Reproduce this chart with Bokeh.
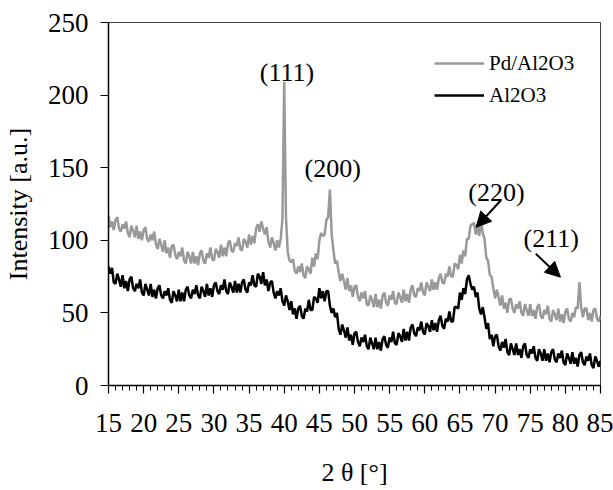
import numpy as np
from bokeh.plotting import figure
from bokeh.models import (ColumnDataSource, Range1d, SingleIntervalTicker, Legend, LegendItem,
                          LabelSet, Arrow, NormalHead)
from bokeh.embed import file_html
from bokeh.resources import INLINE

# ---- data ----
two_theta = np.arange(15, 85.001, 0.25)

pd_al2o3 = [
    117, 109, 113, 107, 114, 116, 108, 106, 111, 108, 113, 105, 102, 110, 107, 102,
    110, 101, 106, 100, 107, 109, 101, 99, 104, 100, 106, 97, 94, 101, 97, 92,
    100, 91, 95, 88, 96, 97, 90, 87, 92, 89, 95, 86, 84, 92, 89, 84,
    92, 84, 89, 83, 91, 93, 86, 84, 91, 88, 95, 87, 86, 94, 92, 88,
    97, 89, 95, 89, 98, 100, 93, 92, 98, 96, 102, 94, 93, 101, 99, 95,
    104, 97, 103, 98, 108, 111, 106, 113, 108, 104, 109, 99, 95, 102, 98, 93,
    100, 95, 101, 115, 209, 116, 92, 86, 85, 87, 79, 77, 82, 78, 84, 76,
    74, 82, 80, 77, 88, 82, 91, 87, 100, 105, 103, 104, 114, 116, 135, 104,
    93, 84, 86, 78, 72, 77, 72, 66, 74, 65, 69, 61, 68, 69, 61, 58,
    64, 60, 65, 56, 55, 62, 59, 54, 63, 54, 59, 53, 62, 64, 57, 55,
    62, 59, 65, 57, 56, 64, 61, 57, 66, 58, 63, 57, 66, 69, 62, 61,
    67, 65, 71, 64, 62, 71, 68, 65, 73, 66, 71, 66, 74, 77, 71, 70,
    77, 75, 82, 75, 75, 84, 83, 80, 90, 84, 93, 89, 101, 101, 110, 111,
    112, 104, 111, 103, 113, 105, 101, 88, 86, 76, 75, 67, 60, 66, 61, 55,
    62, 53, 57, 50, 59, 60, 53, 50, 56, 53, 58, 50, 48, 56, 52, 48,
    56, 48, 52, 46, 54, 56, 48, 46, 52, 49, 55, 46, 44, 52, 49, 45,
    53, 44, 49, 43, 51, 53, 46, 44, 50, 47, 54, 53, 71, 54, 47, 53,
    53, 45, 50, 44, 52, 53, 46, 44, 48,
]

al2o3 = [
    82, 77, 81, 71, 70, 77, 73, 68, 76, 67, 72, 65, 73, 75, 67, 65,
    70, 67, 73, 64, 62, 70, 66, 62, 70, 61, 66, 60, 67, 69, 62, 60,
    65, 62, 67, 59, 57, 65, 62, 58, 66, 58, 64, 58, 66, 68, 62, 60,
    66, 63, 69, 62, 60, 68, 65, 61, 70, 62, 67, 61, 69, 71, 65, 63,
    69, 66, 73, 65, 63, 71, 68, 64, 72, 64, 70, 64, 71, 73, 66, 64,
    71, 69, 76, 69, 68, 77, 75, 70, 78, 69, 73, 65, 71, 72, 64, 60,
    65, 62, 67, 58, 55, 62, 58, 52, 58, 49, 53, 46, 53, 55, 48, 46,
    53, 51, 59, 52, 52, 61, 60, 57, 67, 60, 65, 58, 65, 65, 55, 50,
    53, 47, 50, 39, 35, 42, 38, 33, 40, 31, 35, 28, 36, 37, 30, 27,
    33, 30, 35, 27, 25, 33, 29, 25, 33, 25, 30, 24, 32, 34, 28, 26,
    33, 30, 37, 29, 28, 36, 34, 30, 39, 31, 37, 31, 40, 42, 36, 34,
    40, 38, 44, 37, 35, 43, 41, 37, 45, 38, 43, 37, 45, 48, 41, 39,
    46, 44, 51, 44, 44, 54, 54, 53, 64, 59, 67, 63, 73, 76, 70, 66,
    68, 61, 64, 53, 49, 54, 47, 39, 43, 32, 35, 27, 34, 35, 27, 24,
    30, 26, 32, 23, 21, 29, 25, 21, 29, 21, 25, 19, 27, 29, 21, 19,
    25, 22, 27, 19, 17, 25, 22, 17, 25, 17, 22, 16, 23, 25, 18, 16,
    22, 19, 24, 16, 14, 22, 19, 15, 23, 15, 19, 13, 21, 23, 16, 14,
    20, 17, 22, 14, 12, 20, 17, 13, 17,
]

series_names = ["Pd/Al2O3", "Al2O3"]
series_colors = ["#999999", "#000000"]

peak_labels = ["(111)", "(200)", "(220)", "(211)"]
peak_label_x = [40.4, 46.9, 70.2, 78.0]
peak_label_y = [215.6, 149.5, 133.0, 101.0]

arrow_x0 = [70.8, 75.8]
arrow_y0 = [127.4, 90.7]
arrow_x1 = [67.3, 79.3]
arrow_y1 = [109.0, 74.6]

x_ticks_interval = 5
y_ticks_interval = 50

assert len(pd_al2o3) == len(two_theta), (len(pd_al2o3), len(two_theta))
assert len(al2o3) == len(two_theta), (len(al2o3), len(two_theta))

FONT = "Liberation Serif"

p = figure(width=613, height=490, output_backend="svg", toolbar_location=None,
           x_range=Range1d(15, 85), y_range=Range1d(0, 250),
           min_border_left=107, min_border_right=13, min_border_top=22, min_border_bottom=105)
p.background_fill_color = "white"
p.border_fill_color = "white"
p.outline_line_color = "#404040"
p.outline_line_width = 1
p.xgrid.visible = False
p.ygrid.visible = False

src = ColumnDataSource(dict(x=two_theta, pd=pd_al2o3, al=al2o3))
r_pd = p.line("x", "pd", source=src, line_color=series_colors[0], line_width=2.5)
r_al = p.line("x", "al", source=src, line_color=series_colors[1], line_width=2.5)

# axes
p.xaxis.ticker = SingleIntervalTicker(interval=x_ticks_interval, num_minor_ticks=5)
p.yaxis.ticker = SingleIntervalTicker(interval=y_ticks_interval, num_minor_ticks=0)
for ax in (p.xaxis[0], p.yaxis[0]):
    ax.axis_line_color = "black"
    ax.axis_line_width = 1.5
    ax.major_tick_line_color = "black"
    ax.major_tick_line_width = 1.2
    ax.minor_tick_line_color = "black"
    ax.major_tick_in = 0
    ax.major_tick_out = 8
    ax.minor_tick_in = 0
    ax.major_label_text_font = FONT
    ax.major_label_text_font_size = "27px"
    ax.major_label_text_color = "black"
    ax.axis_label_text_font = FONT
    ax.axis_label_text_font_size = "26px"
    ax.axis_label_text_font_style = "normal"
    ax.axis_label_text_color = "black"
p.xaxis.minor_tick_out = 5
p.yaxis.minor_tick_out = 0
p.xaxis.major_label_standoff = 20
p.xaxis.axis_label_standoff = 23
p.yaxis.major_label_standoff = 12
p.yaxis.axis_label_standoff = 12
p.xaxis.axis_label = "2 θ [°]"
p.yaxis.axis_label = "Intensity [a.u.]"

# legend
legend = Legend(items=[LegendItem(label=series_names[0], renderers=[r_pd]),
                       LegendItem(label=series_names[1], renderers=[r_al])],
                location=(326, 274), orientation="vertical")
legend.border_line_color = None
legend.background_fill_alpha = 0
legend.padding = 0
legend.margin = 0
legend.spacing = 0
legend.glyph_width = 50
legend.glyph_height = 32
legend.label_height = 32
legend.label_standoff = 5
legend.label_text_font = FONT
legend.label_text_font_size = "21px"
legend.label_text_color = "black"
p.add_layout(legend, "center")

# peak labels
lab_src = ColumnDataSource(dict(x=peak_label_x, y=peak_label_y, t=peak_labels))
p.add_layout(LabelSet(x="x", y="y", text="t", source=lab_src, text_font=FONT,
                      text_font_size="26px", text_align="center", text_baseline="middle",
                      text_color="black"))

for x0, y0, x1, y1 in zip(arrow_x0, arrow_y0, arrow_x1, arrow_y1):
    p.add_layout(Arrow(x_start=x0, y_start=y0, x_end=x1, y_end=y1, line_width=2,
                       line_color="black",
                       end=NormalHead(size=15, fill_color="black", line_color="black")))

open("out.html", "w").write(file_html(p, INLINE))
